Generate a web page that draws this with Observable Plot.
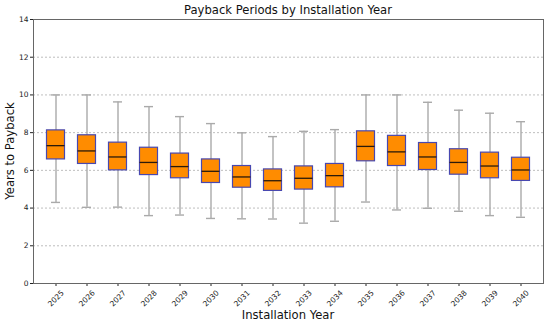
<!DOCTYPE html>
<html>
<head>
<meta charset="utf-8">
<script src="https://cdn.jsdelivr.net/npm/d3@7"></script>
<script src="https://cdn.jsdelivr.net/npm/@observablehq/plot@0.6"></script>
<style>
  html, body { margin: 0; padding: 0; background: #fff; }
  #wrap { position: relative; width: 550px; height: 323px; font-family: "DejaVu Sans", sans-serif; }
  #title { position: absolute; left: 33px; width: 510px; top: 2px; height: 16px; line-height: 16px;
           text-align: center; font-size: 11.6px; color: #111; }
  #ylab { position: absolute; left: 10px; top: 151px; transform: translate(-50%, -50%) rotate(-90deg);
          font-size: 11.6px; color: #111; white-space: nowrap; }
  #xlab { position: absolute; left: 288px; top: 315px; transform: translate(-50%, -50%);
          font-size: 11.6px; color: #111; white-space: nowrap; }
  svg { display: block; }
</style>
</head>
<body>
<div id="wrap">
  <div id="chart"></div>
  <div id="title">Payback Periods by Installation Year</div>
  <div id="ylab">Years to Payback</div>
  <div id="xlab">Installation Year</div>
</div>
<script>
const years   = ["2025","2026","2027","2028","2029","2030","2031","2032","2033","2034","2035","2036","2037","2038","2039","2040"];
const lowW    = [4.30, 4.04, 4.05, 3.60, 3.63, 3.45, 3.43, 3.42, 3.20, 3.30, 4.32, 3.90, 3.99, 3.83, 3.60, 3.51];
const q1      = [6.58, 6.34, 6.00, 5.75, 5.58, 5.33, 5.08, 4.91, 4.98, 5.10, 6.48, 6.23, 6.02, 5.77, 5.58, 5.44];
const median  = [7.31, 7.03, 6.71, 6.42, 6.20, 5.95, 5.65, 5.45, 5.58, 5.72, 7.27, 6.98, 6.71, 6.42, 6.23, 6.02];
const q3      = [8.12, 7.86, 7.47, 7.20, 6.89, 6.58, 6.23, 6.05, 6.21, 6.34, 8.07, 7.83, 7.45, 7.12, 6.94, 6.67];
const highW   = [10.0, 10.0, 9.63, 9.38, 8.85, 8.48, 7.99, 7.79, 8.07, 8.16, 10.0, 10.0, 9.61, 9.19, 9.03, 8.58];
const yTicks  = [0, 2, 4, 6, 8, 10, 12, 14];

const data = years.map((y, i) => ({year: y, lo: lowW[i], q1: q1[i], med: median[i], q3: q3[i], hi: highW[i]}));

const chart = Plot.plot({
  width: 550,
  height: 323,
  marginTop: 19,
  marginBottom: 40,
  marginLeft: 33,
  marginRight: 7,
  style: {fontFamily: "DejaVu Sans, sans-serif", fontSize: "7.5px", color: "#222", background: "#fff"},
  x: {type: "band", domain: years, padding: 0, label: null},
  y: {domain: [0, 14], ticks: yTicks, label: null, tickSize: 3, tickPadding: 2},
  marks: [
    Plot.gridY(yTicks.filter(d => d > 0 && d < 14), {stroke: "#999", strokeOpacity: 0.8, strokeDasharray: "2,2", strokeWidth: 0.8}),
    Plot.axisX({tickSize: 3, text: null, label: null}),
    Plot.axisX({tickSize: 0, tickRotate: -45, textAnchor: "middle", tickPadding: 0, dy: 15, label: null}),
    Plot.ruleX(data, {x: "year", y1: "lo", y2: "hi", stroke: "#aaaaaa", strokeWidth: 1.4}),
    Plot.tickY(data, {x: "year", y: "lo", stroke: "#aaaaaa", strokeWidth: 1.4, insetLeft: 11, insetRight: 11}),
    Plot.tickY(data, {x: "year", y: "hi", stroke: "#aaaaaa", strokeWidth: 1.4, insetLeft: 11, insetRight: 11}),
    Plot.barY(data, {x: "year", y1: "q1", y2: "q3", fill: "#ff8c00", stroke: "#4848b0", strokeWidth: 1.2, insetLeft: 6.5, insetRight: 6.5}),
    Plot.tickY(data, {x: "year", y: "med", stroke: "#2a1a0a", strokeWidth: 1.3, insetLeft: 6.5, insetRight: 6.5}),
    Plot.frame({stroke: "#666", strokeWidth: 1})
  ]
});
document.getElementById("chart").appendChild(chart);
</script>
</body>
</html>
